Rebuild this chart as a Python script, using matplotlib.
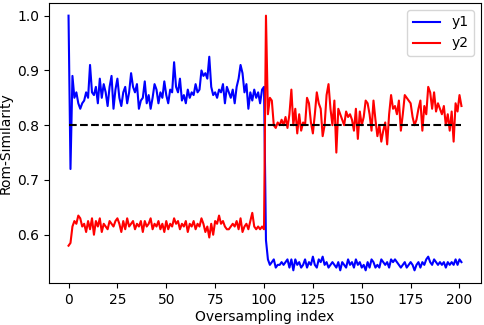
import numpy as np
import matplotlib
matplotlib.use("Agg")
import matplotlib.pyplot as plt

# blue series, index 0..201
y1_first = [1.00, 0.72, 0.89, 0.85, 0.86, 0.84, 0.83, 0.84, 0.845, 0.86,
            0.85, 0.91, 0.86, 0.855, 0.87, 0.84, 0.885, 0.85, 0.875, 0.86,
            0.835, 0.87, 0.89, 0.83, 0.865, 0.885, 0.85, 0.835, 0.86, 0.87,
            0.84, 0.86, 0.895, 0.87, 0.86, 0.875, 0.83, 0.845, 0.85, 0.88,
            0.84, 0.855, 0.83, 0.85, 0.875, 0.865, 0.84, 0.86, 0.85, 0.88,
            0.855, 0.84, 0.865, 0.86, 0.915, 0.87, 0.86, 0.885, 0.845, 0.855,
            0.84, 0.865, 0.85, 0.86, 0.855, 0.875, 0.86, 0.865, 0.90, 0.89,
            0.895, 0.885, 0.925, 0.87, 0.855, 0.86, 0.85, 0.865, 0.86, 0.875,
            0.84, 0.87, 0.86, 0.85, 0.865, 0.84, 0.87, 0.885, 0.91, 0.895,
            0.86, 0.875, 0.83, 0.86, 0.845, 0.865, 0.85, 0.86, 0.84, 0.865,
            0.87]
y1_second = [0.59, 0.555, 0.545, 0.55, 0.555, 0.54, 0.545, 0.545, 0.55, 0.545,
             0.55, 0.555, 0.54, 0.555, 0.535, 0.555, 0.545, 0.55, 0.54, 0.545,
             0.555, 0.54, 0.55, 0.545, 0.56, 0.545, 0.54, 0.555, 0.55, 0.56,
             0.545, 0.55, 0.54, 0.545, 0.55, 0.545, 0.54, 0.55, 0.535, 0.55,
             0.545, 0.54, 0.555, 0.545, 0.55, 0.54, 0.555, 0.545, 0.55, 0.54,
             0.545, 0.535, 0.55, 0.54, 0.555, 0.55, 0.54, 0.545, 0.54, 0.555,
             0.55, 0.545, 0.55, 0.54, 0.555, 0.55, 0.555, 0.55, 0.545, 0.54,
             0.545, 0.55, 0.54, 0.545, 0.55, 0.545, 0.535, 0.545, 0.55, 0.54,
             0.55, 0.545, 0.555, 0.56, 0.55, 0.545, 0.555, 0.55, 0.545, 0.55,
             0.545, 0.55, 0.54, 0.55, 0.545, 0.55, 0.545, 0.555, 0.545, 0.555,
             0.55]

# red series, index 0..201
y2_first = [0.58, 0.585, 0.615, 0.625, 0.62, 0.635, 0.63, 0.615, 0.62, 0.605,
            0.625, 0.61, 0.63, 0.60, 0.625, 0.615, 0.63, 0.605, 0.62, 0.615,
            0.61, 0.625, 0.62, 0.615, 0.625, 0.63, 0.62, 0.605, 0.625, 0.61,
            0.63, 0.615, 0.62, 0.625, 0.61, 0.62, 0.615, 0.625, 0.605, 0.625,
            0.615, 0.62, 0.63, 0.61, 0.62, 0.615, 0.625, 0.61, 0.62, 0.605,
            0.625, 0.61, 0.62, 0.615, 0.63, 0.62, 0.625, 0.61, 0.62, 0.615,
            0.625, 0.605, 0.62, 0.615, 0.625, 0.61, 0.62, 0.615, 0.63, 0.62,
            0.605, 0.615, 0.595, 0.62, 0.60, 0.625, 0.62, 0.635, 0.62, 0.625,
            0.615, 0.61, 0.61, 0.615, 0.62, 0.615, 0.625, 0.61, 0.63, 0.605,
            0.615, 0.62, 0.61, 0.625, 0.64, 0.615, 0.61, 0.615, 0.61, 0.615,
            0.61]
y2_second = [1.0, 0.82, 0.85, 0.845, 0.80, 0.795, 0.805, 0.80, 0.81, 0.80,
             0.815, 0.795, 0.82, 0.865, 0.80, 0.83, 0.785, 0.82, 0.79, 0.805,
             0.80, 0.85, 0.84, 0.805, 0.785, 0.82, 0.86, 0.84, 0.83, 0.78,
             0.80, 0.855, 0.875, 0.83, 0.80, 0.845, 0.75, 0.83, 0.82, 0.81,
             0.80, 0.825, 0.815, 0.82, 0.81, 0.79, 0.83, 0.775, 0.825, 0.80,
             0.815, 0.845, 0.84, 0.82, 0.79, 0.845, 0.81, 0.78, 0.80, 0.77,
             0.79, 0.805, 0.765, 0.82, 0.855, 0.83, 0.835, 0.82, 0.845, 0.79,
             0.82, 0.855, 0.85, 0.845, 0.84, 0.815, 0.80, 0.81, 0.83, 0.845,
             0.79, 0.835, 0.82, 0.87, 0.86, 0.83, 0.86, 0.825, 0.84, 0.83,
             0.82, 0.835, 0.80, 0.82, 0.79, 0.825, 0.77, 0.84, 0.825, 0.855,
             0.835]

threshold = 0.8

y1 = np.array(y1_first + y1_second)
y2 = np.array(y2_first + y2_second)
x = np.arange(len(y1))

fig, ax = plt.subplots(figsize=(4.84, 3.25), dpi=100)
fig.subplots_adjust(left=0.101, right=0.994, top=0.991, bottom=0.129)

ax.plot(x, y1, color='blue', label='y1')
ax.plot(x, y2, color='red', label='y2')
ax.plot([x[0], x[-1]], [threshold, threshold], 'k--')

ax.set_xlabel('Oversampling index', labelpad=2)
ax.set_ylabel('Rom-Similarity')
ax.yaxis.set_label_coords(-0.083, 0.5)
ax.set_yticks([0.6, 0.7, 0.8, 0.9, 1.0])
ax.legend(loc='upper right')

plt.savefig('out.png')
